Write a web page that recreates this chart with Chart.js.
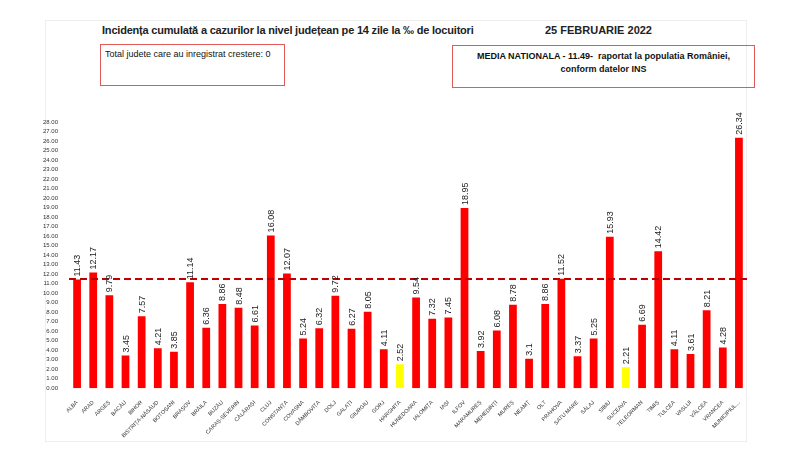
<!DOCTYPE html>
<html><head><meta charset="utf-8">
<script src="https://cdn.jsdelivr.net/npm/chart.js@4"></script>
<style>
body{margin:0;background:#fff;font-family:"Liberation Sans",sans-serif;}
#wrap{position:relative;width:800px;height:456px;}
.frame{position:absolute;left:45px;top:20px;width:700px;height:420px;border:1px solid #eee;}
.t{position:absolute;font-size:11px;color:#222;white-space:nowrap;font-weight:bold;}
.box{position:absolute;border:1px solid #e05a5a;font-size:9px;color:#111;white-space:nowrap;}
#c{position:absolute;left:40px;top:112px;}
</style></head><body>
<div id="wrap">
<div class="frame"></div>
<div class="t" style="left:102px;top:24px;letter-spacing:-0.2px;">Incidența cumulată a cazurilor la nivel județean pe 14 zile la ‰ de locuitori</div>
<div class="t" style="left:545px;top:24px;">25 FEBRUARIE 2022</div>
<div class="box" style="left:100px;top:44px;width:185px;height:42px;padding:4px 4px;box-sizing:border-box;">Total judete care au inregistrat crestere: 0</div>
<div class="box" style="left:452px;top:45px;width:303px;height:43px;padding:4px 4px;box-sizing:border-box;text-align:center;font-weight:bold;line-height:13px;">MEDIA NATIONALA - 11.49-&nbsp; raportat la populatia României,<br>conform datelor INS</div>
<canvas id="c" width="715" height="330"></canvas>
</div>
<script>
const counties = ['ALBA','ARAD','ARGEȘ','BACĂU','BIHOR','BISTRIȚA-NĂSĂUD','BOTOȘANI','BRAȘOV','BRĂILA','BUZĂU','CARAȘ-SEVERIN','CĂLĂRAȘI','CLUJ','CONSTANȚA','COVASNA','DÂMBOVIȚA','DOLJ','GALAȚI','GIURGIU','GORJ','HARGHITA','HUNEDOARA','IALOMIȚA','IAȘI','ILFOV','MARAMUREȘ','MEHEDINȚI','MUREȘ','NEAMȚ','OLT','PRAHOVA','SATU MARE','SĂLAJ','SIBIU','SUCEAVA','TELEORMAN','TIMIȘ','TULCEA','VASLUI','VÂLCEA','VRANCEA','MUNICIPIUL...'];
const incidence = [11.43,12.17,9.79,3.45,7.57,4.21,3.85,11.14,6.36,8.86,8.48,6.61,16.08,12.07,5.24,6.32,9.72,6.27,8.05,4.11,2.52,9.54,7.32,7.45,18.95,3.92,6.08,8.78,3.1,8.86,11.52,3.37,5.25,15.93,2.21,6.69,14.42,4.11,3.61,8.21,4.28,26.34];
const highlighted = ['HARGHITA','SUCEAVA'];
const nationalAverage = 11.49;

const extras = {
  id:'extras',
  afterDatasetsDraw(chart){
    const c = chart.ctx, y = chart.scales.y, a = chart.chartArea;
    const yy = y.getPixelForValue(nationalAverage);
    c.save();
    c.strokeStyle = '#c00000'; c.lineWidth = 2; c.setLineDash([7,4]);
    c.beginPath(); c.moveTo(a.left, yy); c.lineTo(a.right, yy); c.stroke();
    c.setLineDash([]);
    c.fillStyle = '#222'; c.font = '9px "Liberation Sans", sans-serif';
    chart.getDatasetMeta(0).data.forEach((bar,i)=>{
      c.save();
      c.translate(bar.x + 3, bar.y - 3);
      c.rotate(-Math.PI/2);
      c.textAlign = 'left';
      c.fillText(String(incidence[i]), 0, 0);
      c.restore();
    });
    c.restore();
  }
};

new Chart(document.getElementById('c'),{
  type:'bar',
  data:{
    labels:counties,
    datasets:[{
      data:incidence,
      backgroundColor:counties.map(n=>highlighted.includes(n)?'#ffff00':'#ff0000'),
      categoryPercentage:0.8, barPercentage:0.6
    }]
  },
  options:{
    responsive:false, animation:false,
    layout:{padding:{top:10,right:8}},
    plugins:{legend:{display:false},tooltip:{enabled:false}},
    scales:{
      y:{min:0,max:28,ticks:{stepSize:1,autoSkip:false,color:'#333',font:{size:6},callback:v=>v.toFixed(2)},
        grid:{display:false},border:{display:false}},
      x:{ticks:{autoSkip:false,maxRotation:45,minRotation:45,color:'#333',font:{size:5.5}},
        grid:{display:false},border:{display:false}}
    }
  },
  plugins:[extras]
});
</script>
</body></html>
